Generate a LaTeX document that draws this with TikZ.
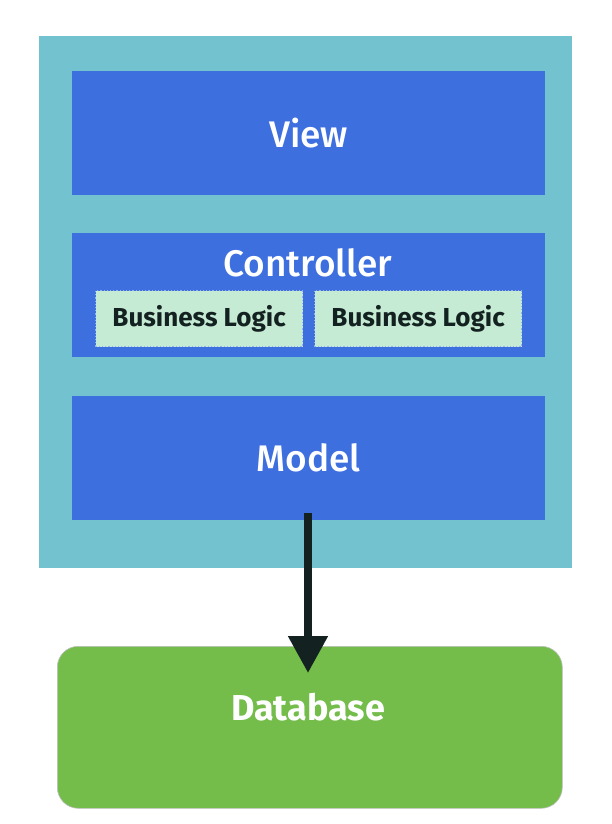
\documentclass[tikz,border=0pt]{standalone}
\usepackage{fontspec}
\setmainfont{Fira Sans}
\newfontfamily\firamed{Fira Sans Medium}
\usetikzlibrary{arrows.meta}
\definecolor{tealbg}{HTML}{72C3CF}
\definecolor{layerblue}{HTML}{3D6FDF}
\definecolor{logicgreen}{HTML}{C6EBD5}
\definecolor{dbgreen}{HTML}{74BD4B}
\definecolor{arrowdark}{HTML}{132220}
\tikzset{
  layer/.style={fill=layerblue, draw=none, minimum width=473pt, minimum height=124pt, inner sep=0pt, anchor=north west},
  layertext/.style={text=white, font=\firamed\fontsize{37}{43}\selectfont},
  logic/.style={fill=logicgreen, draw=layerblue!55!white, line width=1.2pt, dotted, minimum width=207pt, minimum height=56pt, inner sep=0pt, anchor=north west, text=arrowdark, font=\bfseries\fontsize{26}{30}\selectfont},
  db/.style={fill=dbgreen, draw=black!25, line width=0.6pt, rounded corners=21pt, minimum width=505pt, minimum height=162pt, inner sep=0pt, anchor=north west},
  dbtext/.style={text=white, font=\bfseries\fontsize{36}{42}\selectfont},
  flow/.style={draw=arrowdark, line width=8pt, -{Triangle[length=37pt,width=38pt]}}
}
\begin{document}
\begin{tikzpicture}[x=1pt,y=-1pt]
\useasboundingbox (0,0) rectangle (612,824);
\fill[tealbg] (39,36) rectangle (572,568);
\node[layer] (view) at (72,71) {};
\node[layertext] (viewt) at (view.center) {View};
\node[layer] (ctrl) at (72,233) {};
\node[layertext] (ctrlt) at (308,263) {Controller};
\node[logic] (bl1) at (95,290) {Business Logic};
\node[logic] (bl2) at (314,290) {Business Logic};
\node[layer] (model) at (72,396) {};
\node[layertext] (modelt) at (model.center) {Model};
\node[db] (dbase) at (57,646) {};
\node[dbtext] (dbt) at (308,707) {Database};
\coordinate (astart) at (308,513);
\coordinate (tip) at (308,673);
\draw[flow] (astart) -- (tip);
\end{tikzpicture}
\end{document}
